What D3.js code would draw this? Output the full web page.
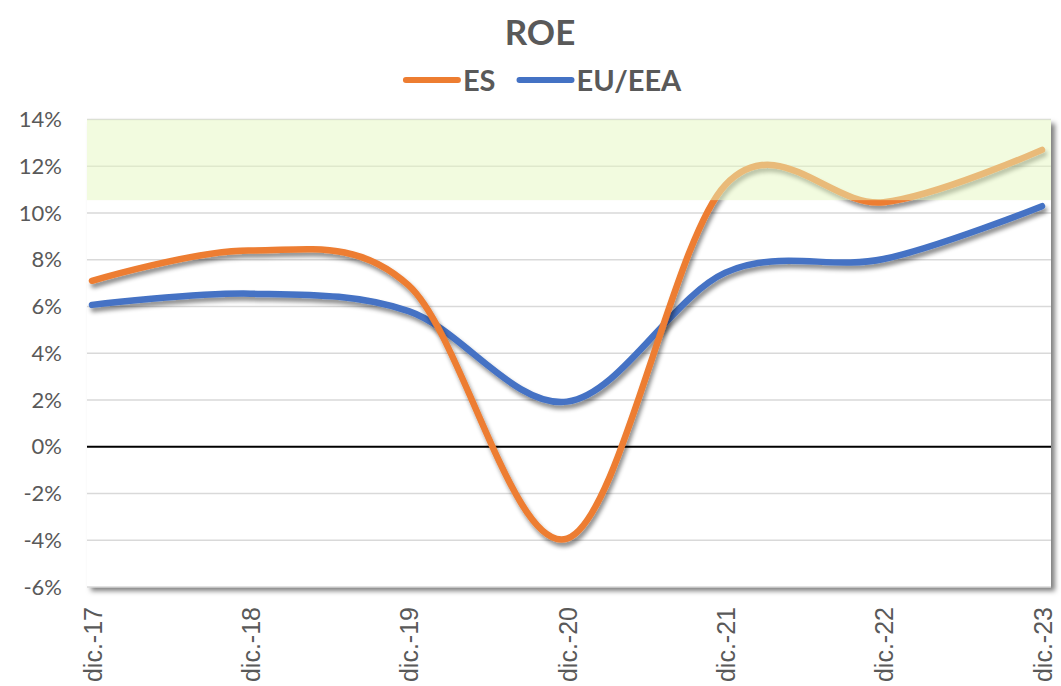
<!DOCTYPE html>
<html>
<head>
<meta charset="utf-8">
<script src="https://cdn.jsdelivr.net/npm/d3@7"></script>
<style>
  body { margin: 0; background: #fff; }
  #graf { width: 1061px; height: 686px; }
  .ylab text { font-family: Lato, 'Open Sans', sans-serif; font-size: 22px; fill: #595959; }
  .xlab text { font-family: 'Liberation Sans', Arial, sans-serif; font-size: 25px; fill: #595959; }
  .titulo { font-family: Lato, sans-serif; font-weight: bold; font-size: 35px; fill: #595959; }
  .leyenda text { font-family: Lato, sans-serif; font-weight: bold; font-size: 29px; fill: #595959; }
</style>
</head>
<body>
<div id="graf"></div>
<script>
// datos (ROE, %)
const categorias = ['dic.-17', 'dic.-18', 'dic.-19', 'dic.-20', 'dic.-21', 'dic.-22', 'dic.-23']
const serieES = [7.1, 8.4, 6.9, -3.93, 11.2, 10.46, 12.7]
const serieEU = [6.07, 6.55, 5.8, 1.93, 7.45, 8.03, 10.29]
const yTicks = [-6, -4, -2, 0, 2, 4, 6, 8, 10, 12, 14]
const banda = [10.55, 14]   // zona verde

const anchoTotal = 1061
const altoTotal = 686

const margin = { top: 119.5, bottom: 99, left: 87, right: 10 }
const ancho = anchoTotal - margin.left - margin.right
const alto = altoTotal - margin.top - margin.bottom

const svg = d3.select('#graf')
  .append('svg')
  .attr('width', anchoTotal)
  .attr('height', altoTotal)

const defs = svg.append('defs')
const sombra = defs.append('filter').attr('id', 'sombra')
  .attr('x', '-5%').attr('y', '-10%').attr('width', '110%').attr('height', '130%')
sombra.append('feDropShadow')
  .attr('dx', 2).attr('dy', 4).attr('stdDeviation', 2.2)
  .attr('flood-color', '#000').attr('flood-opacity', 0.45)

const sombraArea = defs.append('filter').attr('id', 'sombraArea')
  .attr('x', '-2%').attr('y', '-2%').attr('width', '104%').attr('height', '106%')
sombraArea.append('feDropShadow')
  .attr('dx', 4).attr('dy', 4).attr('stdDeviation', 2.5)
  .attr('flood-color', '#000').attr('flood-opacity', 0.5)

const g = svg.append('g')
  .attr('transform', `translate(${margin.left}, ${margin.top})`)

const x = d3.scalePoint()
  .domain(categorias)
  .range([5, ancho - 9])

const y = d3.scaleLinear()
  .domain([-6, 14])
  .range([alto, 0])

// area de trazado
g.append('rect')
  .attr('width', ancho)
  .attr('height', alto)
  .attr('fill', '#fff')
  .attr('filter', 'url(#sombraArea)')

// rejilla
g.append('g')
  .selectAll('line')
  .data(yTicks.filter(d => d !== 0))
  .join('line')
    .attr('x1', 0)
    .attr('x2', ancho)
    .attr('y1', d => y(d))
    .attr('y2', d => y(d))
    .attr('stroke', '#d9d9d9')
    .attr('stroke-width', 1.5)

g.append('line')
  .attr('x1', 0)
  .attr('x2', ancho)
  .attr('y1', y(0))
  .attr('y2', y(0))
  .attr('stroke', '#000')
  .attr('stroke-width', 2)

// ejes
g.append('g')
  .attr('class', 'ylab')
  .call(d3.axisLeft(y).tickValues(yTicks).tickSize(0).tickPadding(25).tickFormat(d => d + '%'))
  .call(s => s.select('.domain').remove())

g.append('g')
  .attr('class', 'xlab')
  .attr('transform', `translate(0, ${alto})`)
  .call(d3.axisBottom(x).tickSize(0))
  .call(s => s.select('.domain').remove())
  .selectAll('text')
    .attr('text-anchor', 'end')
    .attr('transform', 'rotate(-90)')
    .attr('x', -20)
    .attr('y', 0)
    .attr('dy', '0.36em')

// lineas
const linea = serie => d3.line()
  .x((d, i) => x(categorias[i]))
  .y(d => y(d))
  .curve(d3.curveCardinal.tension(0))(serie)

const series = [
  { nombre: 'ES', valores: serieES, color: '#ED7D31' },
  { nombre: 'EU/EEA', valores: serieEU, color: '#4472C4' },
]

g.append('g')
  .selectAll('path')
  .data(series.slice().reverse())
  .join('path')
    .attr('d', d => linea(d.valores))
    .attr('fill', 'none')
    .attr('stroke', d => d.color)
    .attr('stroke-width', 6.5)
    .attr('stroke-linecap', 'round')
    .attr('filter', 'url(#sombra)')

// banda verde semitransparente por encima
g.append('rect')
  .attr('x', 0)
  .attr('width', ancho)
  .attr('y', y(banda[1]))
  .attr('height', y(banda[0]) - y(banda[1]))
  .attr('fill', 'rgb(229,247,191)')
  .attr('fill-opacity', 0.5)

// titulo y leyenda
svg.append('text')
  .attr('class', 'titulo')
  .attr('x', 540)
  .attr('y', 45)
  .attr('text-anchor', 'middle')
  .text('ROE')

const leyenda = svg.append('g').attr('class', 'leyenda')
let pos = 0
series.forEach(s => {
  const item = leyenda.append('g').attr('transform', `translate(${pos}, 0)`)
  item.append('line')
    .attr('x1', 3).attr('x2', 55)
    .attr('y1', 0).attr('y2', 0)
    .attr('stroke', s.color)
    .attr('stroke-width', 6)
    .attr('stroke-linecap', 'round')
  const t = item.append('text')
    .attr('x', 60)
    .attr('y', 11)
    .text(s.nombre)
  pos += 60 + t.node().getComputedTextLength() + 21
})
const bb = leyenda.node().getBBox()
leyenda.attr('transform', `translate(${544 - bb.width / 2 - bb.x}, 80)`)
</script>
</body>
</html>
